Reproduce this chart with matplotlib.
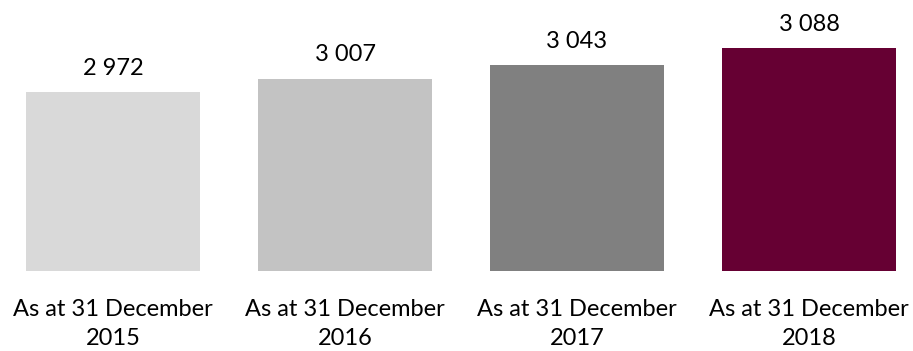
import matplotlib
matplotlib.use("Agg")
import matplotlib.pyplot as plt

# Headcount at each year end
categories = ["As at 31 December\n2015", "As at 31 December\n2016",
              "As at 31 December\n2017", "As at 31 December\n2018"]
values = [2972, 3007, 3043, 3088]
colors = ["#D9D9D9", "#C3C3C3", "#808080", "#660033"]

plt.rcParams["font.family"] = ["Lato", "DejaVu Sans"]

fig = plt.figure(figsize=(9.13, 3.51), dpi=100)
ax = fig.add_axes([0.0, 0.228, 1.0, 0.756])

x = list(range(len(values)))
bars = ax.bar(x, values, width=0.75, color=colors, bottom=0)
ax.set_ylim(2500, 3200)
ax.set_xlim(-0.487, 3.448)

for xi, v in zip(x, values):
    ax.annotate(f"{v:,}".replace(",", " "), xy=(xi, v), xytext=(0, 12.5),
                textcoords="offset points", ha="center", va="baseline",
                fontsize=17, color="#000000")

ax.set_xticks(x)
ax.set_xticklabels(categories, fontsize=17, color="#000000", linespacing=1.5)
ax.tick_params(axis="x", length=0, pad=20)
ax.set_yticks([])
for s in ax.spines.values():
    s.set_visible(False)

fig.savefig("out.png", dpi=100)
